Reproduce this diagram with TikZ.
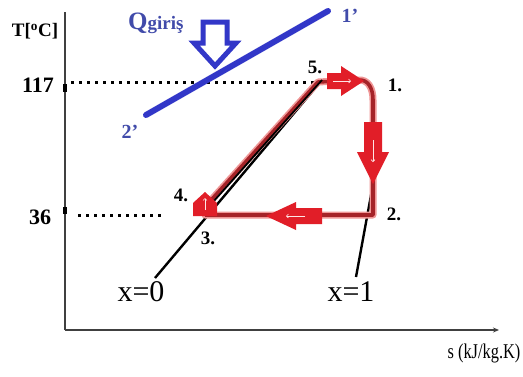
\documentclass[tikz,border=0pt]{standalone}
\usepackage{fontspec}
\setmainfont{Liberation Serif}
\usetikzlibrary{arrows.meta}
\definecolor{cycred}{RGB}{165,35,40}
\definecolor{glowred}{RGB}{240,150,150}
\definecolor{arrred}{RGB}{225,30,40}
\definecolor{qblue}{RGB}{50,55,200}
\definecolor{qtext}{RGB}{65,75,170}
\begin{document}
\begin{tikzpicture}[x=1pt,y=-1pt,
  axis/.style={draw=black!75, line width=1.3pt},
  dots/.style={draw=black, line width=3pt, dash pattern=on 3pt off 5pt},
  sat/.style={draw=black, line width=2.4pt},
  glow/.style={draw=glowred, line width=7pt, line join=round, line cap=round},
  cyc/.style={draw=cycred, line width=3.6pt, line join=round},
  fat/.style={fill=arrred},
  inner/.style={draw=white!90!red, line width=0.6pt, -{Straight Barb[length=2pt]}},
  lbl/.style={font=\fontsize{19}{19}\selectfont\bfseries, inner sep=0pt},
  vlbl/.style={font=\fontsize{22}{22}\selectfont\bfseries, inner sep=0pt},
  blbl/.style={font=\fontsize{20}{20}\selectfont\bfseries, text=qtext, inner sep=0pt},
  xlbl/.style={font=\fontsize{30}{30}\selectfont, inner sep=0pt},
  hollow/.style={draw=qblue, line width=5pt, fill=white, line join=miter},
  qline/.style={draw=qblue, line width=6pt, line cap=round}]
\useasboundingbox (0,0) rectangle (523,376);
\fill[white] (0,0) rectangle (523,376);

% axes
\coordinate (O) at (65,330);
\coordinate (Ytop) at (65,12);
\coordinate (Xend) at (499,330);
\draw[axis] (O) -- (Ytop);
\draw[axis, -{Stealth[length=6pt,width=5pt]}] (O) -- (Xend);
\fill[black] (63,84) rectangle (67,92);
\fill[black] (63,207) rectangle (67,214);

% axis labels
\node[font=\fontsize{19}{19}\selectfont\bfseries, inner sep=0pt] (tlab) at (35,31) {T[\textsuperscript{o}C]};
\node[vlbl] (t117) at (38,85) {117};
\node[vlbl] (t36) at (40,217) {36};
\node[inner sep=0pt, font=\fontsize{21}{21}\selectfont] (slab) at (484,353) {\scalebox{0.78}[1]{s (kJ/kg.K)}};

% state points
\coordinate (p5) at (318,82);
\coordinate (c1) at (358,80);
\coordinate (c1b) at (373,100);
\coordinate (p2) at (373,215);
\coordinate (p3) at (205,215);
\coordinate (p4) at (203,209);

% dotted isotherms
\coordinate (d1a) at (71,82);
\coordinate (d2a) at (78,215);
\coordinate (d2b) at (162,215);
\draw[dots] (d1a) -- (p5);
\draw[dots] (d2a) -- (d2b);

% saturation lines
\coordinate (s0a) at (155,278);
\coordinate (s0b) at (322,80);
\coordinate (s1a) at (356,277);
\coordinate (s1b) at (376,168);
\draw[sat] (s0a) -- (s0b);
\draw[sat] (s1a) -- (s1b);

% cycle
\draw[glow] (p4) -- (p5) -- (c1) .. controls (368,79) and (373,88) .. (c1b) -- (p2) -- (p3);
\draw[cyc] (p4) -- (p5) -- (c1) .. controls (368,79) and (373,88) .. (c1b) -- (p2) -- (p3);
\draw[sat, line width=1.8pt] (213,202) -- (s0b);

% fat arrows
\fill[fat] (327,73) -- (341,73) -- (341,66) -- (364,81) -- (341,96) -- (341,89) -- (327,89) -- cycle;
\draw[inner] (333,81) -- (351,81);
\fill[fat] (364,122) -- (382,122) -- (382,152) -- (389,152) -- (373,184) -- (357,152) -- (364,152) -- cycle;
\draw[inner] (373,140) -- (373,162);
\fill[fat] (322,208) -- (296,208) -- (296,202) -- (266,216) -- (296,230) -- (296,224) -- (322,224) -- cycle;
\draw[inner] (305,216) -- (286,216);
\fill[fat] (193,216) -- (193,203) -- (205,192) -- (217,203) -- (217,216) -- cycle;
\draw[inner] (205,210) -- (205,198);

% point labels
\node[lbl] (l5) at (315,67) {5.};
\node[lbl] (l1) at (395,85) {1.};
\node[lbl] (l2) at (394,214) {2.};
\node[lbl] (l3) at (208,238) {3.};
\node[lbl] (l4) at (181,195) {4.};
\node[xlbl] (x0) at (141,292) {x=0};
\node[xlbl] (x1) at (351,292) {x=1};

% heat source line
\coordinate (q2) at (146,115);
\coordinate (q1) at (328,11);
\draw[qline] (q2) -- (q1);
\node[blbl] (l1p) at (350,16) {1'};
\node[blbl] (l2p) at (130,132) {2'};
\node[inner sep=0pt, text=qtext, anchor=base west] (qlab) at (128,29)
  {\fontsize{25}{25}\selectfont\bfseries Q\fontsize{19}{19}\selectfont giriş};
\draw[hollow] (203,22) -- (227,22) -- (227,43) -- (236,43) -- (215,66) -- (194,43) -- (203,43) -- cycle;
\end{tikzpicture}
\end{document}
